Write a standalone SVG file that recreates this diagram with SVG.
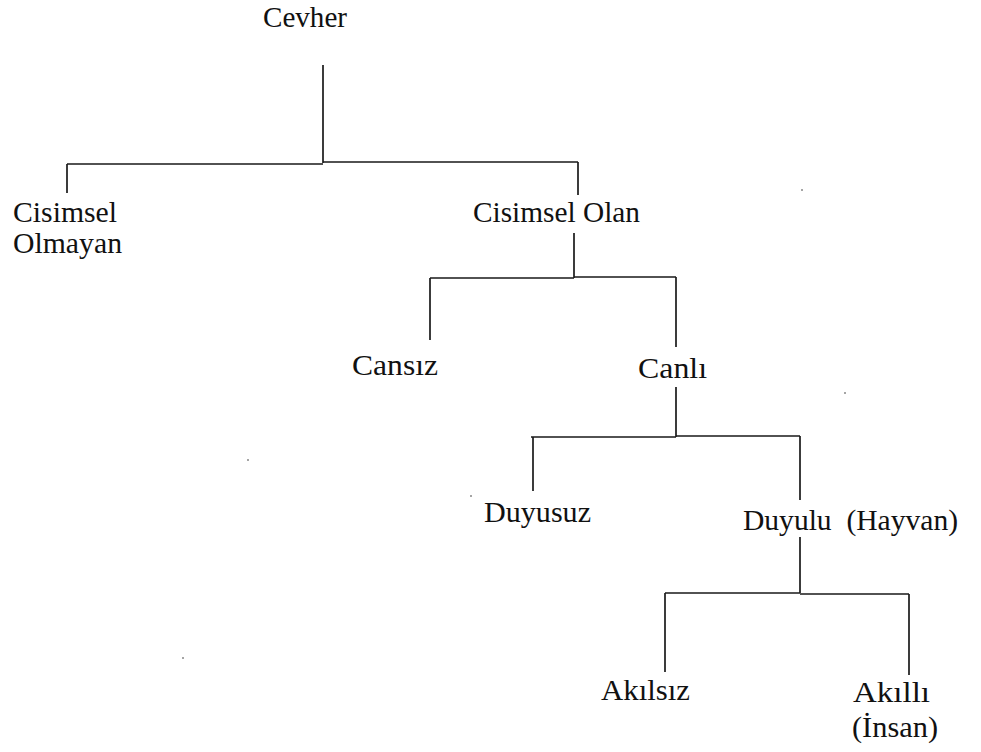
<svg xmlns="http://www.w3.org/2000/svg" width="981" height="752" viewBox="0 0 981 752">
<style>
text{font-family:"Liberation Serif","Times New Roman",serif;font-size:30px;fill:#111}
.c{stroke:#1a1a1a;stroke-width:1.7;fill:none}
</style>
<rect width="981" height="752" fill="#fff"/>
<g id="connectors">
<path class="c" d="M323 65V163M67 164H323M323 162H578M67 164V193M578 162V195"/>
<path class="c" d="M574 233V278M430 278H574M574 277H676M430 278V340M676 277V347"/>
<path class="c" d="M676 387V437M531 437H676M676 436H800M533 437V491M800 436V500"/>
<path class="c" d="M800 537V593M665 593H800M800 594H909M665 593V672M909 594V675"/>
</g>
<g id="n-cevher"><text x="263" y="26.5" textLength="84" lengthAdjust="spacingAndGlyphs">Cevher</text></g>
<g id="n-cisimsel-olmayan"><text x="13" y="222" textLength="104" lengthAdjust="spacingAndGlyphs">Cisimsel</text><text x="13" y="253" textLength="109" lengthAdjust="spacingAndGlyphs">Olmayan</text></g>
<g id="n-cisimsel-olan"><text x="473" y="222" textLength="167" lengthAdjust="spacingAndGlyphs">Cisimsel Olan</text></g>
<g id="n-cansiz"><text x="352" y="375" textLength="86" lengthAdjust="spacingAndGlyphs">Cansız</text></g>
<g id="n-canli"><text x="638" y="378" textLength="69" lengthAdjust="spacingAndGlyphs">Canlı</text></g>
<g id="n-duyusuz"><text x="484" y="522" textLength="107" lengthAdjust="spacingAndGlyphs">Duyusuz</text></g>
<g id="n-duyulu"><text x="743" y="530" textLength="215" lengthAdjust="spacingAndGlyphs" xml:space="preserve">Duyulu  (Hayvan)</text></g>
<g id="n-akilsiz"><text x="601" y="700" textLength="89" lengthAdjust="spacingAndGlyphs">Akılsız</text></g>
<g id="n-akilli"><text x="853" y="702" textLength="77" lengthAdjust="spacingAndGlyphs">Akıllı</text><text x="852" y="737" textLength="86" lengthAdjust="spacingAndGlyphs">(İnsan)</text></g>
<g id="specks" fill="#333">
<circle cx="802" cy="190" r="0.8"/><circle cx="845" cy="393" r="0.8"/><circle cx="248" cy="460" r="0.8"/><circle cx="471" cy="496" r="0.8"/><circle cx="183" cy="658" r="0.8"/>
</g>
</svg>
